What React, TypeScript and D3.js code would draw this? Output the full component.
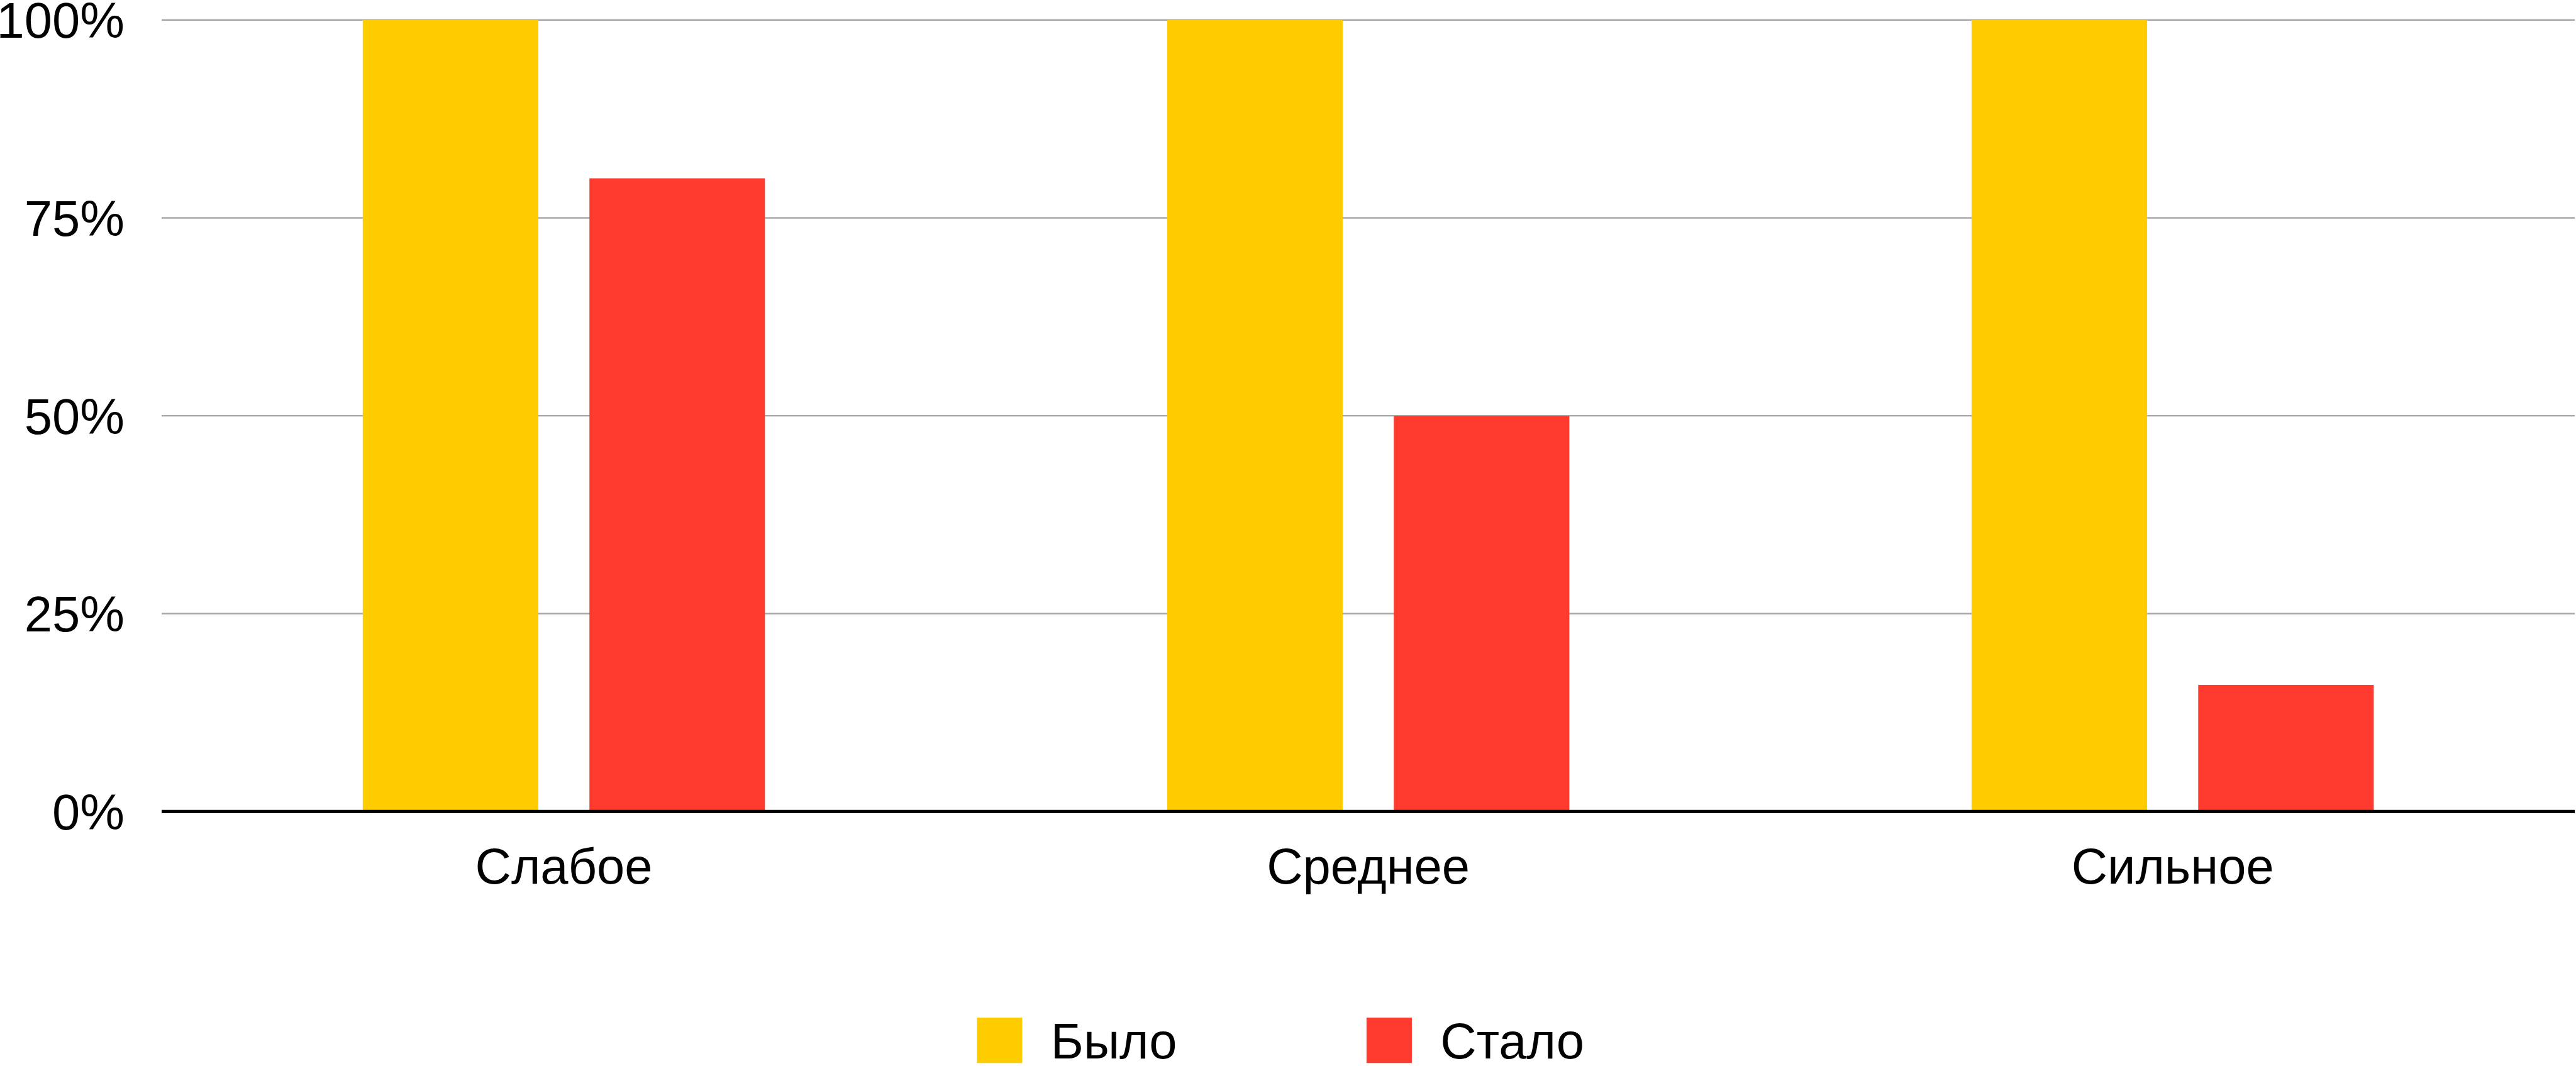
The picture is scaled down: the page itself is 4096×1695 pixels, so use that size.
import React from 'react';
import * as d3 from 'd3';

// Chart data
const categories = ['Слабое', 'Среднее', 'Сильное'];
const seriesNames = ['Было', 'Стало'];
const wasValues = [100, 100, 100];
const becameValues = [80, 50, 16];
const yTicks = [0, 25, 50, 75, 100];

const seriesColors = ['#FFCC00', '#FF3B30'];

// Drawing space (the svg viewBox scales it to the window)
const W = 4430;
const H = 1833;
const plotLeft = 278;
const plotRight = 4428;
const plotTop = 34.3;
const plotBottom = 1395.5;
const FONT = '"Liberation Sans", Arial, Helvetica, sans-serif';
const FS = 86;

export default function App() {
  const x0 = d3
    .scaleBand<string>()
    .domain(categories)
    .range([plotLeft, plotRight])
    .paddingInner(0.5)
    .paddingOuter(0.25);

  const x1 = d3
    .scaleBand<string>()
    .domain(seriesNames)
    .range([0, x0.bandwidth()])
    .paddingInner(0.2256)
    .paddingOuter(0);

  const y = d3.scaleLinear().domain([0, 100]).range([plotBottom, plotTop]);

  const rows = categories.map((c, i) => ({
    category: c,
    values: [wasValues[i], becameValues[i]],
  }));

  const legendX = [1680, 2350];
  const legendY = 1750;
  const sw = 78;

  return (
    <svg
      width={4096}
      height={1695}
      viewBox={`0 0 ${W} ${H}`}
      style={{ position: 'fixed', left: 0, top: 0, background: '#fff' }}
    >
      <rect x={0} y={0} width={W} height={H} fill="#fff" />
      {/* gridlines */}
      {yTicks
        .filter((t) => t !== 0)
        .map((t) => (
          <line
            key={t}
            x1={plotLeft}
            x2={plotRight}
            y1={y(t)}
            y2={y(t)}
            stroke="#A8A8A8"
            strokeWidth={2.6}
          />
        ))}
      {/* y tick labels */}
      {yTicks.map((t) => (
        <text
          key={t}
          x={214}
          y={y(t) + FS * 0.358}
          textAnchor="end"
          fontFamily={FONT}
          fontSize={FS}
          fill="#000"
        >
          {`${t}%`}
        </text>
      ))}
      {/* bars */}
      {rows.map((r) => (
        <g key={r.category} transform={`translate(${x0(r.category)},0)`}>
          {r.values.map((v, j) => (
            <rect
              key={seriesNames[j]}
              x={x1(seriesNames[j])}
              y={y(v)}
              width={x1.bandwidth()}
              height={y(0) - y(v)}
              fill={seriesColors[j]}
            />
          ))}
        </g>
      ))}
      {/* baseline */}
      <line
        x1={plotLeft}
        x2={plotRight}
        y1={y(0)}
        y2={y(0)}
        stroke="#000"
        strokeWidth={5.5}
      />
      {/* category labels */}
      {categories.map((c) => (
        <text
          key={c}
          x={(x0(c) as number) + x0.bandwidth() / 2}
          y={1519}
          textAnchor="middle"
          fontFamily={FONT}
          fontSize={FS}
          fill="#000"
        >
          {c}
        </text>
      ))}
      {/* legend */}
      {seriesNames.map((s, i) => (
        <g key={s}>
          <rect x={legendX[i]} y={legendY} width={sw} height={sw} fill={seriesColors[i]} />
          <text
            x={legendX[i] + sw + 49}
            y={legendY + sw / 2 + FS * 0.358}
            fontFamily={FONT}
            fontSize={FS}
            fill="#000"
          >
            {s}
          </text>
        </g>
      ))}
    </svg>
  );
}
